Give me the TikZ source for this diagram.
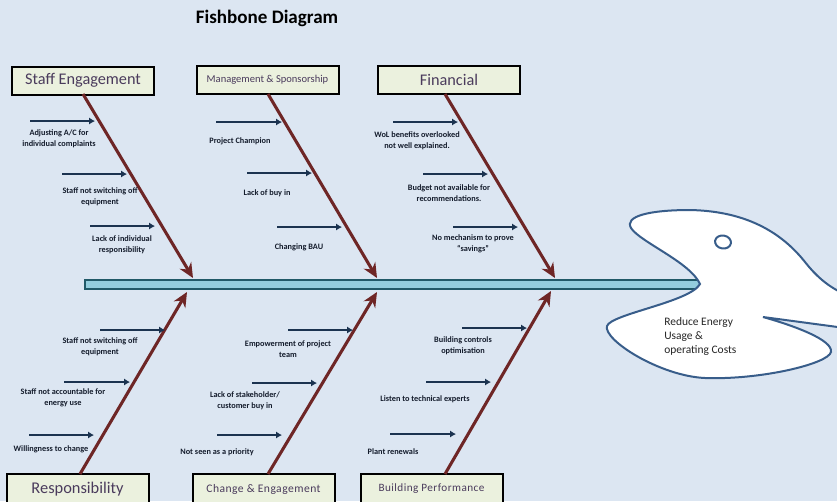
\documentclass[tikz,border=0pt]{standalone}
\usepackage{fontspec}
\setmainfont{Carlito}
\usetikzlibrary{arrows.meta}
\definecolor{bgblue}{HTML}{DCE6F2}
\definecolor{boxfill}{HTML}{EBF1DE}
\definecolor{boxtext}{HTML}{4A3B5C}
\definecolor{bonered}{HTML}{6E2626}
\definecolor{navy}{HTML}{1B3350}
\definecolor{spinefill}{HTML}{93CDDD}
\definecolor{spineline}{HTML}{215968}
\definecolor{headline}{HTML}{385D8A}
\definecolor{labeltext}{HTML}{141C2C}
\tikzset{
  catbox/.style={draw=black, line width=1.5pt, fill=boxfill, minimum width=106.5pt, minimum height=21pt, inner sep=0pt, text=boxtext},
  bone/.style={draw=bonered, line width=2.3pt, -{Stealth[length=11pt,width=10pt]}},
  cause/.style={draw=navy, line width=1.9pt, -{Latex[length=4.5pt,width=5.5pt]}},
  lbl/.style={font=\bfseries\fontsize{6.2}{8.2}\selectfont, align=center, text=labeltext, inner sep=0pt},
}
\begin{document}
\begin{tikzpicture}[x=0.75pt,y=-0.75pt]
\useasboundingbox (0,0) rectangle (837,501);
\fill[bgblue] (0,0) rectangle (837,501);
\clip (0,0) rectangle (837,501);

% title
\node[font=\bfseries\fontsize{14.3}{16}\selectfont] (title) at (267,18) {Fishbone Diagram};

% spine
\node[draw=spineline, fill=spinefill, line width=1.4pt, minimum width=615pt*0.75, minimum height=7pt, inner sep=0pt, anchor=west] (spine) at (84,284.5) {};

% category boxes
\node[catbox, font=\fontsize{12.2}{14}\selectfont] (se) at (83,80.5) {Staff Engagement};
\node[catbox, font=\fontsize{7.9}{9}\selectfont] (ms) at (267.5,80) {Management \& Sponsorship};
\node[catbox, font=\fontsize{12.2}{14}\selectfont] (fi) at (449,80) {Financial};
\node[catbox, font=\fontsize{12.3}{14}\selectfont, minimum height=22.5pt] (re) at (77.5,489) {Responsibility};
\node[catbox, font=\fontsize{8.7}{10}\selectfont\addfontfeature{LetterSpace=4}, minimum height=22.5pt] (ce) at (263.5,489) {Change \& Engagement};
\node[catbox, font=\fontsize{8.4}{10}\selectfont\addfontfeature{LetterSpace=4}, minimum height=22.5pt] (bp) at (431.5,489) {Building Performance};

% bone endpoints
\coordinate (t1s) at (83,94);  \coordinate (t1e) at (193,278);
\coordinate (t2s) at (268,94); \coordinate (t2e) at (377,278);
\coordinate (t3s) at (445,94); \coordinate (t3e) at (555,278);
\coordinate (b1s) at (80,474);  \coordinate (b1e) at (187,292);
\coordinate (b2s) at (268,474); \coordinate (b2e) at (377,292);
\coordinate (b3s) at (445,474); \coordinate (b3e) at (551,291);

% head
\path[draw=headline, fill=white, line width=1.5pt]
  (700,284) .. controls (690,262) and (640,242) .. (631,228)
  .. controls (624,216) and (650,210) .. (690,210)
  .. controls (740,211) and (778,228) .. (805,262)
  .. controls (820,281) and (835,292) .. (860,300)
  -- (860,330) -- (763,317)
  .. controls (795,326) and (833,340) .. (831,352)
  .. controls (828,364) and (760,380) .. (705,378)
  .. controls (660,376) and (603,340) .. (607,326)
  .. controls (611,314) and (690,302) .. (700,284) -- cycle;
\draw[headline, line width=1.5pt, rotate around={-10:(723,242)}] (723,242) ellipse [x radius=8, y radius=6.5];
\node[anchor=north west, align=left, inner sep=0pt, font=\fontsize{8.6}{10.5}\selectfont, text=black!85] (goal) at (664,317) {Reduce Energy\\Usage \&\\operating Costs};

% bones
\draw[bone] (t1s) -- (t1e);
\draw[bone] (t2s) -- (t2e);
\draw[bone] (t3s) -- (t3e);
\draw[bone] (b1s) -- (b1e);
\draw[bone] (b2s) -- (b2e);
\draw[bone] (b3s) -- (b3e);

% cause arrows
\foreach \n/\xa/\xb/\yy in {t1a/30/95/121, t1b/62/127/174, t1c/90/155/226,
  t2a/216/282/122, t2b/247/312/173, t2c/277/342/227,
  t3a/393/458/122, t3b/423/488/174, t3c/453/518/227,
  b1a/100/165/330, b1b/64/130/382, b1c/29/94/435,
  b2a/288/353/330, b2b/252/317/383, b2c/217/282/435,
  b3a/462/527/328, b3b/426/491/382, b3c/390/456/434}{
  \coordinate (\n s) at (\xa,\yy);
  \coordinate (\n e) at (\xb,\yy);
  \draw[cause] (\n s) -- (\n e);
}

% labels
\node[lbl] (l1) at (59,139) {Adjusting A/C for\\individual complaints};
\node[lbl] (l2) at (100,197) {Staff not switching off\\equipment};
\node[lbl] (l3) at (122,245) {Lack of individual\\responsibility};
\node[lbl] (l4) at (240,141) {Project Champion};
\node[lbl] (l5) at (267,193) {Lack of buy in};
\node[lbl] (l6) at (299,247) {Changing BAU};
\node[lbl] (l7) at (417,141) {WoL benefits overlooked\\not well explained.};
\node[lbl] (l8) at (449,193) {Budget not available for\\recommendations.};
\node[lbl] (l9) at (473,244) {No mechanism to prove\\“savings”};
\node[lbl] (l10) at (100,347) {Staff not switching off\\equipment};
\node[lbl] (l11) at (63,398) {Staff not accountable for\\energy use};
\node[lbl] (l12) at (51,449) {Willingness to change};
\node[lbl] (l13) at (288,349) {Empowerment of project\\team};
\node[lbl] (l14) at (245,401) {Lack of stakeholder/\\customer buy in};
\node[lbl] (l15) at (217,452) {Not seen as a priority};
\node[lbl] (l16) at (463,346) {Building controls\\optimisation};
\node[lbl] (l17) at (425,399) {Listen to technical experts};
\node[lbl] (l18) at (393,452) {Plant renewals};
\end{tikzpicture}
\end{document}
